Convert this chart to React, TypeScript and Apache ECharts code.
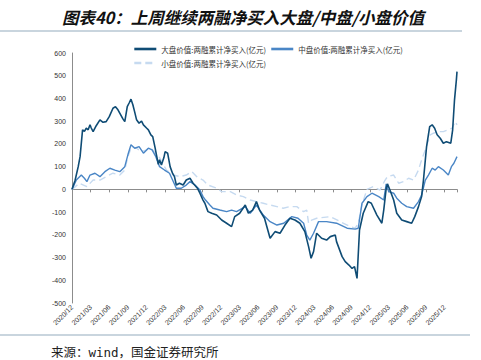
import React, { useEffect, useRef } from "react";
import * as echarts from "echarts";

// x positions are months since 2020/12
const bigMonths = [0, 0.5, 1.0, 1.3, 1.7, 2.0, 2.3, 2.6, 2.9, 3.1, 3.4, 3.9, 4.5, 5.0, 5.5, 6.0, 6.6, 7.0, 7.4, 7.8, 8.2, 8.5, 8.9, 9.2, 9.5, 9.8, 10.1, 10.4, 10.8, 11.2, 11.5, 12.0, 12.3, 12.7, 13.0, 13.4, 13.6, 13.9, 14.1, 14.4, 14.8, 15.0, 15.4, 15.8, 16.2, 16.5, 16.8, 17.3, 17.9, 18.4, 19.0, 19.5, 20.2, 20.6, 21.1, 21.4, 21.9, 22.5, 23.3, 24.1, 24.9, 25.7, 26.2, 27.0, 27.9, 28.4, 29.1, 29.7, 30.2, 31.0, 31.9, 32.7, 33.5, 34.3, 35.1, 35.9, 36.7, 37.5, 38.1, 38.5, 38.9, 39.4, 40.2, 41.0, 41.6, 42.4, 42.6, 43.5, 44.0, 44.6, 45.1, 45.5, 45.9, 46.3, 46.9, 47.7, 48.2, 49.1, 49.9, 50.2, 50.6, 50.8, 51.2, 51.8, 52.3, 53.1, 53.9, 54.7, 55.2, 55.8, 56.3, 56.6, 56.9, 57.1, 57.6, 58.0, 58.4, 58.8, 59.3, 59.8, 60.3, 61.0, 61.3, 61.6, 61.9, 62.0];
const bigValues = [0, 40, 100, 144, 262, 255, 269, 262, 284, 270, 254, 280, 306, 295, 298, 320, 357, 364, 350, 330, 310, 298, 364, 380, 397, 372, 340, 306, 291, 300, 284, 270, 262, 240, 232, 180, 152, 110, 130, 107, 140, 166, 159, 100, 70, 56, 19, 27, 19, 41, 49, 27, 5, -17, -47, -61, -98, -105, -113, -135, -149, -164, -120, -105, -69, -105, -91, -54, -91, -127, -215, -186, -193, -157, -127, -135, -149, -186, -252, -303, -274, -193, -215, -223, -208, -201, -230, -296, -318, -333, -348, -340, -392, -179, -105, -54, -61, -113, -149, -91, 5, 24, -3, -47, -105, -135, -142, -149, -120, -76, -32, 41, 130, 188, 276, 284, 269, 240, 225, 203, 210, 203, 262, 394, 482, 518];

const midMonths = [0, 0.7, 1.5, 2.0, 2.4, 2.9, 3.7, 4.5, 5.3, 6.1, 6.9, 7.7, 8.5, 9.0, 9.5, 10.1, 10.8, 11.5, 12.3, 12.9, 13.5, 14.1, 14.9, 15.7, 16.8, 17.6, 18.4, 19.0, 19.8, 20.6, 21.1, 21.5, 22.2, 22.7, 23.8, 24.9, 25.7, 26.5, 27.9, 28.7, 29.7, 30.8, 31.9, 33.0, 34.1, 35.4, 36.4, 37.3, 37.8, 38.3, 38.9, 39.7, 41.0, 42.6, 44.3, 45.6, 46.1, 46.7, 47.5, 48.3, 49.4, 50.2, 50.6, 51.0, 51.8, 52.3, 53.1, 53.9, 55.0, 55.8, 56.3, 56.9, 57.4, 58.0, 58.5, 59.0, 59.8, 60.6, 61.1, 61.5, 62.0];
const midValues = [0, 41, 63, 49, 34, 63, 71, 56, 78, 93, 85, 78, 100, 152, 196, 181, 188, 159, 181, 174, 144, 100, 85, 71, 5, 5, 19, 34, 19, -3, -32, -47, -69, -83, -91, -98, -91, -98, -76, -105, -69, -113, -142, -157, -149, -120, -127, -149, -201, -223, -193, -142, -142, -149, -171, -175, -171, -61, -32, -17, -32, -47, 24, -10, -17, -39, -61, -76, -83, -54, -25, 41, 63, 93, 85, 100, 85, 63, 100, 115, 144];

const smallMonths = [0, 1.2, 2.4, 3.4, 4.5, 5.5, 6.6, 7.7, 8.5, 9.0, 9.6, 10.4, 11.2, 12.0, 12.5, 13.3, 14.1, 15.2, 16.3, 17.4, 18.4, 19.3, 20.1, 21.1, 21.9, 23.3, 24.1, 25.5, 26.5, 27.6, 28.7, 29.7, 30.8, 31.9, 33.0, 34.0, 35.1, 36.2, 37.3, 37.8, 38.1, 38.6, 39.4, 41.6, 43.2, 44.8, 45.6, 46.1, 46.7, 47.5, 48.5, 49.6, 50.4, 50.8, 51.8, 52.6, 53.4, 54.2, 55.0, 55.8, 56.3, 56.9, 57.7, 58.2, 59.0, 59.8, 60.6, 61.2, 61.7, 62.0];
const smallValues = [0, 27, 12, 41, 41, 56, 71, 63, 85, 144, 188, 181, 166, 174, 185, 165, 140, 85, 63, 56, 63, 78, 56, 41, 19, 5, -10, -10, -25, -32, -47, -54, -61, -69, -76, -83, -76, -76, -98, -91, -149, -135, -127, -120, -142, -164, -171, -149, -69, 0, 12, -3, 40, 56, 63, 27, 34, 49, 41, 85, 130, 174, 240, 247, 254, 254, 262, 269, 298, 284];

const seriesNames = [
  "大盘价值:两融累计净买入(亿元)",
  "中盘价值:两融累计净买入(亿元)",
  "小盘价值:两融累计净买入(亿元)",
];

const monthLabel = (m: number) => {
  const total = 2020 * 12 + 11 + Math.round(m);
  const y = Math.floor(total / 12);
  const mo = (total % 12) + 1;
  return `${y}/${mo < 10 ? "0" + mo : mo}`;
};

const pairs = (xs: number[], ys: number[]) => xs.map((x, i) => [x, ys[i]]);

export default function App() {
  const ref = useRef<HTMLDivElement>(null);
  useEffect(() => {
    if (!ref.current) return;
    const chart = echarts.init(ref.current, undefined, { renderer: "svg" });
    const cjk = "'Noto Sans CJK SC', 'Liberation Sans', sans-serif";
    const axisFont = "'Liberation Sans', Arial, sans-serif";
    const legendBase = {
      left: 128,
      itemWidth: 22,
      itemHeight: 10,
      itemGap: 4,
      itemStyle: { opacity: 0 },
      lineStyle: { width: 2.6 },
      textStyle: { fontSize: 7.5, color: "#333", fontFamily: cjk },
    };
    chart.setOption({
      animation: false,
      backgroundColor: "#ffffff",
      title: {
        text: "图表40：上周继续两融净买入大盘/中盘/小盘价值",
        left: 238,
        textAlign: "center",
        top: 4,
        textStyle: {
          fontSize: 16.5,
          fontStyle: "italic",
          fontWeight: "bold",
          color: "#111",
          fontFamily: cjk,
        },
      },
      legend: [
        { ...legendBase, top: 40, data: [seriesNames[0], seriesNames[1]] },
        { ...legendBase, top: 54, data: [seriesNames[2]] },
      ],
      grid: { left: 72, right: 24, top: 53, bottom: 57, containLabel: false },
      xAxis: [
        {
          type: "value",
          min: 0,
          max: 62,
          interval: 3,
          position: "bottom",
          axisLine: { show: false, onZero: false },
          axisTick: { show: false },
          splitLine: { show: false },
          axisLabel: {
            rotate: 45,
            fontSize: 7,
            margin: 3,
            color: "#333",
            fontFamily: axisFont,
            showMaxLabel: false,
            formatter: (v: number) => monthLabel(v),
          },
        },
        {
          type: "value",
          min: 0,
          max: 62,
          interval: 3,
          position: "bottom",
          axisLine: { show: true, onZero: true, lineStyle: { color: "#8c8c8c", width: 1 } },
          axisTick: { show: true, length: 3, lineStyle: { color: "#8c8c8c" } },
          splitLine: { show: false },
          axisLabel: { show: false },
        },
      ],
      yAxis: {
        type: "value",
        min: -500,
        max: 600,
        interval: 100,
        axisLine: { show: true, lineStyle: { color: "#8c8c8c", width: 1 } },
        axisTick: { show: false },
        splitLine: { show: false },
        axisLabel: { fontSize: 7, color: "#333", margin: 6, fontFamily: axisFont },
      },
      series: [
        {
          name: seriesNames[0],
          type: "line",
          symbol: "none",
          data: pairs(bigMonths, bigValues),
          lineStyle: { color: "#0f4c75", width: 1.6 },
          itemStyle: { color: "#0f4c75" },
          z: 4,
        },
        {
          name: seriesNames[1],
          type: "line",
          symbol: "none",
          data: pairs(midMonths, midValues),
          lineStyle: { color: "#4a86c6", width: 1.4 },
          itemStyle: { color: "#4a86c6" },
          z: 3,
        },
        {
          name: seriesNames[2],
          type: "line",
          symbol: "none",
          data: pairs(smallMonths, smallValues),
          lineStyle: { color: "#c6daf0", width: 1.4, type: [7, 4] },
          itemStyle: { color: "#c6daf0" },
          z: 2,
        },
      ],
      graphic: [
        {
          type: "line",
          shape: { x1: 0, y1: 31, x2: 462, y2: 31 },
          style: { stroke: "#c9d5de", lineWidth: 2 },
        },
        {
          type: "line",
          shape: { x1: 0, y1: 335, x2: 470, y2: 335 },
          style: { stroke: "#c9d5de", lineWidth: 2 },
        },
        {
          type: "text",
          x: 51,
          y: 352,
          style: {
            text: "来源：wind，国金证券研究所",
            fontSize: 12.5,
            fill: "#222",
            fontFamily: "'DejaVu Sans Mono', 'Noto Sans CJK SC', monospace",
            verticalAlign: "middle",
          },
        },
      ],
    });
    return () => chart.dispose();
  }, []);
  return (
    <div
      ref={ref}
      style={{ position: "fixed", left: 0, top: 0, width: 481, height: 360 }}
    />
  );
}
